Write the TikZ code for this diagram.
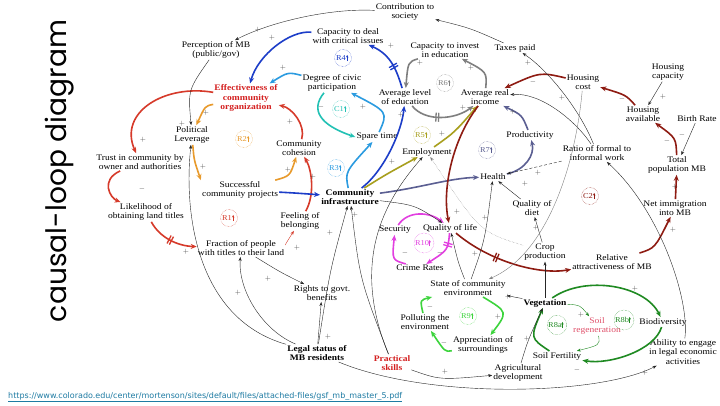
\documentclass[tikz,border=0pt]{standalone}
\usepackage{fontspec}
\setmainfont{Liberation Serif}[FakeStretch=1.12]
\newfontfamily\titlefont{Poppins}
\newfontfamily\urlfont{DejaVu Sans}
\usetikzlibrary{arrows.meta}
\definecolor{cRed}{HTML}{D63A2A}
\definecolor{cRedT}{HTML}{D42020}
\definecolor{cOrange}{HTML}{E89A2C}
\definecolor{cBlue}{HTML}{1C3DC8}
\definecolor{cSky}{HTML}{2B9BE0}
\definecolor{cTeal}{HTML}{22C1B4}
\definecolor{cGray}{HTML}{7F7F7F}
\definecolor{cOlive}{HTML}{A89F1E}
\definecolor{cSlate}{HTML}{5B5F92}
\definecolor{cDred}{HTML}{8E1B12}
\definecolor{cGreen}{HTML}{3DD43D}
\definecolor{cDgreen}{HTML}{1F8A22}
\definecolor{cMag}{HTML}{E23FE0}
\definecolor{cUrl}{HTML}{1E7BA3}
\definecolor{cSoil}{HTML}{E0506A}
\newcommand\dbar{\rule[-4.5pt]{1.3pt}{9pt}\hspace{1.3pt}\rule[-4.5pt]{1.3pt}{9pt}}
\newcommand\loopl[4]{\node[lpc,draw=#4,text=#4] (#1) at (#2) {#3\hspace{4pt}};
  \draw[#4,line width=0.8pt,-{Stealth[length=2.5pt,width=2.5pt]}] ([xshift=-4.5pt,yshift=-3pt]#1.east) -- ++(0,6pt);}
\tikzset{
  every node/.style={font=\fontsize{8.5}{9.5}\selectfont, align=center, inner sep=1pt},
  bnd/.style={font=\fontsize{8.5}{9.5}\selectfont\bfseries},
  th/.style={line width=1.6pt, -{Stealth[length=6pt,width=5pt]}},
  tn/.style={line width=0.4pt, -{Stealth[length=4pt,width=3pt]}, black!85},
  pol/.style={font=\fontsize{7}{7}\selectfont, text=black!70, inner sep=0pt},
  lpc/.style={circle, densely dotted, inner sep=0.5pt, minimum size=17pt, font=\fontsize{7.5}{8}\selectfont},
  delay/.style={sloped, inner sep=0pt, allow upside down}
}
\begin{document}
\begin{tikzpicture}[x=1pt,y=-1pt]
\useasboundingbox (0,0) rectangle (720,405);
\fill[white] (0,0) rectangle (720,405);
% title and url
\node[rotate=90, inner sep=0] (title) at (60,171) {\resizebox{302pt}{!}{\titlefont causal-loop diagram}};
\node[anchor=west, inner sep=0, text=cUrl] (url) at (8,397) {\resizebox{394pt}{!}{\urlfont\underline{https://www.colorado.edu/center/mortenson/sites/default/files/attached-files/gsf\_mb\_master\_5.pdf}}};
% nodes
\node (perc) at (216,50) {Perception of MB\\(public/gov)};
\node (cap) at (348,36) {Capacity to deal\\with critical issues};
\node (contr) at (405,12) {Contribution to\\society};
\node (invest) at (445,50) {Capacity to invest\\in education};
\node (tax) at (515,48) {Taxes paid};
\node (hcap) at (668,72) {Housing\\capacity};
\node (hcost) at (583,82) {Housing\\cost};
\node (havail) at (643,114) {Housing\\available};
\node (birth) at (697,119) {Birth Rate};
\node (tot) at (677,165) {Total\\population MB};
\node (net) at (675,208) {Net immigration\\into MB};
\node (ratio) at (597,153) {Ratio of formal to\\informal work};
\node (rel) at (612,262) {Relative\\attractiveness of MB};
\node (civic) at (332,83) {Degree of civic\\participation};
\node[bnd,text=cRedT] (eff) at (246,98) {Effectiveness of\\community\\organization};
\node (edu) at (405,97) {Average level\\of education};
\node (inc) at (485,97) {Average real\\income};
\node (emp) at (427,152) {Employment};
\node (prod) at (530,135) {Productivity};
\node (health) at (493,177) {Health};
\node (spare) at (377,137) {Spare time};
\node[bnd] (infra) at (350,197) {Community\\infrastructure};
\node (coh) at (299,148) {Community\\cohesion};
\node (pol) at (192,135) {Political\\Leverage};
\node (trust) at (140,162) {Trust in community by\\owner and authorities};
\node (like) at (146,212) {Likelihood of\\obtaining land titles};
\node (succ) at (240,190) {Successful\\community projects};
\node (feel) at (300,221) {Feeling of\\belonging};
\node (frac) at (241,248) {Fraction of people\\with titles to their land};
\node (rights) at (322,293) {Rights to govt.\\benefits};
\node[bnd] (legal) at (317,353) {Legal status of\\MB residents};
\node (sec) at (395,230) {Security};
\node (qol) at (450,228) {Quality of life};
\node (crime) at (420,268) {Crime Rates};
\node (diet) at (532,208) {Quality of\\diet};
\node (crop) at (545,252) {Crop\\production};
\node (env) at (468,288) {State of community\\environment};
\node (poll) at (425,322) {Polluting the\\environment};
\node (appr) at (483,345) {Appreciation of\\surroundings};
\node[bnd,text=cRedT] (skills) at (392,363) {Practical\\skills};
\node (agri) at (518,373) {Agricultural\\development};
\node[bnd] (veg) at (545,303) {Vegetation};
\node[text=cSoil] (soilreg) at (597,326) {Soil\\regeneration};
\node (bio) at (663,322) {Biodiversity};
\node (able) at (683,352) {Ability to engage\\in legal economic\\activities};
\node (fert) at (557,356) {Soil Fertility};
% loop labels
\loopl{lR4}{343,58}{R4}{cBlue}
\loopl{lC1}{341,109}{C1}{cTeal}
\loopl{lR6}{445,83}{R6}{cGray}
\loopl{lR5}{422,135}{R5}{cOlive}
\loopl{lR7}{487,150}{R7}{cSlate}
\loopl{lR2}{244,139}{R2}{cOrange}
\loopl{lR3}{336,168}{R3}{cSky}
\loopl{lR1}{229,218}{R1}{cRed}
\loopl{lC2}{590,196}{C2}{cDred}
\loopl{lR10}{424,243}{R10}{cMag}
\loopl{lR9}{468,316}{R9}{cGreen}
\loopl{lR8a}{557,325}{R8a}{cDgreen}
\loopl{lR8b}{624,320}{R8b}{cDgreen}
% red loop
\draw[th,cRed] (eff) .. controls (165,84) and (118,112) .. (trust);
\draw[th,cRed] (trust) .. controls (100,180) and (110,198) .. (like);
\draw[th,cRed] (like) .. controls (160,238) and (178,246) .. (frac) node[delay,pos=.5,text=cRed]{\dbar};
\draw[tn,cRed] (frac) .. controls (285,245) .. (feel);
\draw[th,cRed] (feel) .. controls (315,195) and (312,170) .. (coh);
\draw[th,cRed] (coh) .. controls (306,125) and (292,108) .. (eff);
% orange
\draw[th,cOrange] (eff) .. controls (205,106) .. (pol);
\draw[th,cOrange] (pol) .. controls (194,160) .. (succ.north west);
\draw[th,cOrange] (succ) .. controls (290,176) .. (coh);
% blue
\draw[th,cBlue] (cap) .. controls (290,30) and (258,55) .. (eff);
\draw[th,cBlue] (edu) .. controls (397,72) and (392,55) .. (cap) node[delay,pos=.45,text=cBlue]{\dbar};
\draw[th,cBlue] (infra) .. controls (385,170) and (402,130) .. (edu);
\draw[th,cBlue] (succ) .. controls (295,193) .. (infra);
% sky / teal
\draw[th,cSky] (civic) .. controls (288,72) .. (eff);
\draw[th,cSky] (infra) .. controls (345,172) .. (spare);
\draw[th,cSky] (spare) .. controls (388,112) .. (civic);
\draw[th,cTeal] (civic) .. controls (310,110) and (320,125) .. (spare.west);
% gray
\draw[th,cGray] (edu) .. controls (425,122) and (455,120) .. (inc) node[delay,pos=.45,text=cGray]{\dbar};
\draw[th,cGray] (inc) .. controls (487,72) .. (invest);
\draw[th,cGray] (invest) .. controls (408,62) .. (edu);
% olive
\draw[th,cOlive] (infra) .. controls (385,175) .. (emp);
\draw[th,cOlive] (emp) .. controls (455,132) .. (inc);
% slate
\draw[th,cSlate] (infra) .. controls (420,188) and (450,178) .. (health);
\draw[th,cSlate] (health) .. controls (525,170) and (535,155) .. (prod);
\draw[th,cSlate] (prod) .. controls (522,115) .. (inc);
% dark red
\draw[th,cDred] (inc) .. controls (452,140) and (442,190) .. (qol);
\draw[th,cDred] (qol) .. controls (490,262) and (540,275) .. (rel) node[delay,pos=.35,text=cDred]{\dbar};
\draw[th,cDred] (rel) .. controls (655,248) .. (net);
\draw[th,cDred] (net) -- (tot);
\draw[th,cDred] (tot) .. controls (676,138) .. (havail);
\draw[th,cDred] (havail) .. controls (626,95) .. (hcost);
\draw[th,cDred] (hcost) .. controls (540,72) .. (inc);
% green
\draw[th,cGreen] (env) .. controls (508,312) .. (appr);
\draw[th,cGreen] (appr) .. controls (445,352) .. (poll);
\draw[th,cGreen] (poll) .. controls (420,300) .. (env);
% dark green
\draw[th,cDgreen] (fert) .. controls (530,338) .. (veg);
\draw[th,cDgreen] (veg) .. controls (585,275) and (645,285) .. (bio);
\draw[th,cDgreen] (bio) .. controls (655,350) and (610,365) .. (fert);
\draw[tn,cDgreen] (veg) .. controls (580,305) .. (soilreg);
\draw[tn,cDgreen] (soilreg) .. controls (600,345) .. (fert);
% magenta
\draw[th,cMag] (sec) .. controls (408,210) and (430,212) .. (qol);
\draw[th,cMag] (qol) .. controls (448,250) .. (crime) node[delay,pos=.3,text=cMag]{\dbar};
\draw[th,cMag] (crime) .. controls (392,260) .. (sec);
% thin links
\draw[tn] (contr) .. controls (330,8) and (270,22) .. (perc);
\draw[tn] (tax) .. controls (470,28) .. (contr);
\draw[tn] (perc) .. controls (188,90) .. (pol);
\draw[tn] (legal) .. controls (200,320) and (183,220) .. (pol);
\draw[tn] (legal) .. controls (262,330) and (238,290) .. (frac);
\draw[tn] (legal) -- (rights);
\draw[tn] (frac) .. controls (280,272) .. (rights);
\draw[tn] (legal) .. controls (330,270) .. (infra);
\draw[tn] (skills) .. controls (360,280) .. (infra);
\draw[tn] (skills) .. controls (350,260) and (385,200) .. (emp);
\draw[tn] (skills) .. controls (440,380) .. (agri);
\draw[tn] (legal) .. controls (430,400) and (600,395) .. (able);
\draw[tn] (able) .. controls (690,300) and (660,210) .. (ratio);
\draw[tn] (ratio) .. controls (580,110) and (548,70) .. (tax);
\draw[tn] (ratio) .. controls (575,120) and (540,92) .. (inc);
\draw[tn,densely dashed] (ratio) .. controls (545,165) .. (health);
\draw[tn] (diet) -- (health);
\draw[tn] (crop) -- (diet);
\draw[tn] (veg) -- (crop);
\draw[tn] (veg) -- (env);
\draw[tn] (agri) .. controls (528,340) .. (veg);
\draw[tn] (env) .. controls (458,262) .. (qol);
\draw[tn] (env) .. controls (485,240) .. (health);
\draw[tn] (infra) .. controls (415,205) .. (qol);
\draw[tn,gray,densely dotted] (crop) .. controls (480,232) .. (emp);
\draw[tn] (birth) -- (tot);
\draw[tn] (hcap) -- (havail);
\draw[tn,gray] (hcost) .. controls (575,170) and (545,255) .. (env);
% polarities
\foreach \x/\y/\s [count=\i] in {258/30/+, 272/38/+, 283/68/+, 182/124/+, 206/113/+, 143/140/+, 142/189/-, 203/167/+, 290/122/+, 288/170/+, 186/252/+, 313/177/+, 297/248/+, 330/233/+, 268/279/+, 238/293/+, 328/337/+, 445/372/+, 391/46/+, 420/63/+, 471/68/+, 463/108/+, 401/115/+, 363/107/+, 321/107/-, 533/82/-, 528/63/+, 513/112/+, 622/99/-, 663/97/+, 562/98/+, 682/135/-, 667/141/-, 675/187/+, 673/230/+, 538/173/+, 536/228/+, 442/134/+, 392/162/+, 355/215/+, 457/212/+, 485/218/+, 525/184/+, 475/254/+, 405/253/-, 440/253/-, 430/307/-, 498/317/+, 444/343/-, 508/297/+, 527/339/+, 635/289/+, 581/315/+, 577/370/-, 645/373/+}
  \node[pol] (p\i) at (\x,\y) {$\s$};
\end{tikzpicture}
\end{document}
